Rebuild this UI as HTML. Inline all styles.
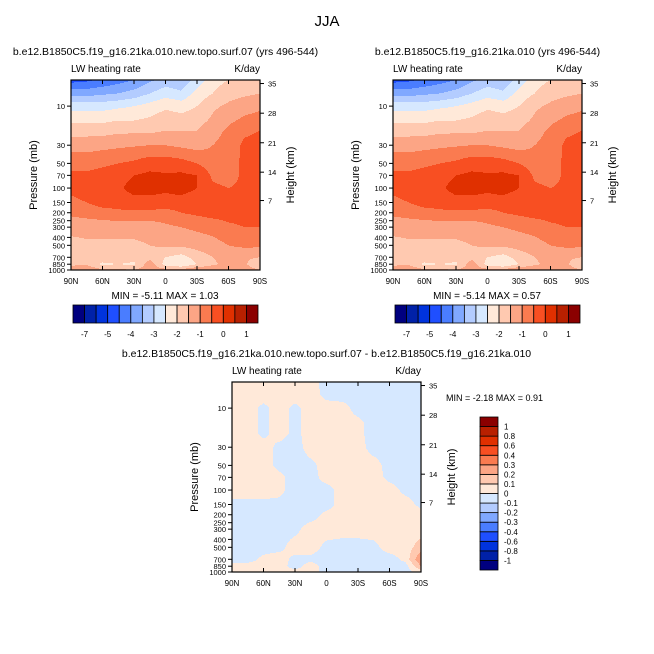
<!DOCTYPE html>
<html><head><meta charset="utf-8">
<style>
body{margin:0;background:#fff;}
#root{position:relative;width:654px;height:654px;background:#fff;overflow:hidden;font-family:"Liberation Sans",sans-serif;color:#000;}
</style></head>
<body>
<div id="root">
<svg id="svg" width="654" height="654" style="position:absolute;left:0;top:0"></svg>
</div>
<script>
const lats = ["90N","75N","60N","45N","30N","15N","0","15S","30S","45S","60S","75S","90S"];
const levels = [4.8,7,10,15,20,30,50,70,100,150,200,300,500,700,850,1000];
const latTicks = ["90N","60N","30N","0","30S","60S","90S"];
const presTicks = [10,30,50,70,100,150,200,250,300,400,500,700,850,1000];
const heightTicks = [35,28,21,14,7];
const heightTickP = [5.3,12.2,28,64,142];
const topLevels = [-7,-6,-5,-4.5,-4,-3.5,-3,-2.5,-2,-1.5,-1,-0.5,0,0.5,1];
const topLabels = ["-7","-5","-4","-3","-2","-1","0","1"];
const diffLevels = [-1,-0.8,-0.6,-0.4,-0.3,-0.2,-0.1,0,0.1,0.2,0.3,0.4,0.6,0.8,1];
const diffLabels = ["-1","-0.8","-0.6","-0.4","-0.3","-0.2","-0.1","0","0.1","0.2","0.3","0.4","0.6","0.8","1"];
const colors = ["#00007F","#0021A8","#0033DD","#1F4FFF","#4A7DFF","#80A8FF","#B3CCFF","#D6E8FF","#FFE9D9","#FFC9B0","#FCA585","#FA7B50","#F84F22","#E03000","#B82000","#8B0000"];
const fieldA = [
[-4.7,-4.6,-4.4,-4.2,-4.0,-3.6,-3.3,-3.4,-2.8,-2.2,-2.0,-1.9,-1.8],
[-3.7,-3.7,-3.6,-3.5,-3.3,-3.0,-2.7,-2.9,-2.3,-2.0,-1.7,-1.6,-1.5],
[-2.7,-2.7,-2.7,-2.6,-2.5,-2.3,-2.1,-2.2,-2.0,-1.6,-1.4,-1.2,-1.1],
[-2.1,-2.1,-2.1,-2.0,-2.0,-1.9,-1.7,-1.8,-1.7,-1.4,-1.1,-0.9,-0.8],
[-1.7,-1.7,-1.7,-1.6,-1.6,-1.6,-1.5,-1.5,-1.5,-1.2,-0.9,-0.6,-0.5],
[-1.2,-1.2,-1.15,-1.1,-1.05,-1.0,-1.0,-1.1,-1.2,-1.0,-0.8,-0.4,-0.3],
[-0.7,-0.7,-0.6,-0.5,-0.4,-0.2,-0.2,-0.3,-0.5,-0.8,-0.7,-0.4,-0.3],
[-0.4,-0.4,-0.3,-0.2,0.0,0.1,0.05,0.1,0.0,-0.6,-0.7,-0.4,-0.3],
[-0.4,-0.3,-0.2,-0.1,0.2,0.2,0.1,0.2,0.0,-0.4,-0.5,-0.4,-0.3],
[-0.6,-0.5,-0.3,-0.3,-0.2,-0.2,-0.2,-0.2,-0.3,-0.3,-0.3,-0.3,-0.3],
[-0.9,-0.8,-0.7,-0.6,-0.6,-0.6,-0.7,-0.5,-0.4,-0.3,-0.3,-0.3,-0.3],
[-1.3,-1.3,-1.3,-1.3,-1.3,-1.3,-1.1,-1.0,-0.9,-0.8,-0.6,-0.5,-0.5],
[-1.7,-1.6,-1.6,-1.6,-1.6,-1.5,-1.4,-1.4,-1.3,-1.2,-1.0,-0.9,-0.9],
[-1.9,-1.8,-1.7,-1.7,-1.8,-1.7,-2.0,-2.2,-1.8,-1.5,-1.3,-1.4,-1.5],
[-1.6,-1.6,-2.1,-2.0,-2.1,-1.2,-2.2,-2.5,-2.0,-1.6,-1.3,-1.4,-2.0],
[-1.2,-1.0,-1.4,-1.4,-1.5,-1.2,-1.3,-1.3,-1.0,-1.0,-1.0,-1.2,-1.5]];
const fieldB = [
[-4.7,-4.6,-4.4,-4.2,-4.0,-3.6,-3.3,-3.4,-2.8,-2.2,-2.0,-1.9,-1.8],
[-3.7,-3.7,-3.6,-3.5,-3.3,-3.0,-2.7,-2.9,-2.3,-2.0,-1.7,-1.6,-1.5],
[-2.7,-2.7,-2.7,-2.6,-2.5,-2.3,-2.1,-2.2,-2.0,-1.6,-1.4,-1.2,-1.1],
[-2.1,-2.1,-2.1,-2.0,-2.0,-1.9,-1.7,-1.8,-1.7,-1.4,-1.1,-0.9,-0.8],
[-1.7,-1.7,-1.7,-1.6,-1.6,-1.6,-1.5,-1.5,-1.5,-1.2,-0.9,-0.6,-0.5],
[-1.2,-1.2,-1.15,-1.1,-1.05,-1.0,-1.0,-1.1,-1.2,-1.0,-0.8,-0.4,-0.3],
[-0.7,-0.7,-0.6,-0.5,-0.4,-0.2,-0.2,-0.3,-0.5,-0.8,-0.7,-0.4,-0.3],
[-0.4,-0.4,-0.3,-0.2,0.0,0.1,0.05,0.1,0.0,-0.6,-0.7,-0.4,-0.3],
[-0.4,-0.3,-0.2,-0.1,0.2,0.2,0.1,0.2,0.0,-0.4,-0.5,-0.4,-0.3],
[-0.6,-0.5,-0.3,-0.3,-0.2,-0.2,-0.2,-0.2,-0.3,-0.3,-0.3,-0.3,-0.3],
[-0.9,-0.8,-0.7,-0.6,-0.6,-0.6,-0.7,-0.5,-0.4,-0.3,-0.3,-0.3,-0.3],
[-1.3,-1.3,-1.3,-1.3,-1.3,-1.3,-1.1,-1.0,-0.9,-0.8,-0.6,-0.5,-0.5],
[-1.7,-1.6,-1.6,-1.6,-1.6,-1.5,-1.4,-1.4,-1.3,-1.2,-1.0,-0.9,-0.9],
[-1.9,-1.8,-1.7,-1.7,-1.8,-1.7,-2.0,-2.2,-1.8,-1.5,-1.3,-1.4,-1.5],
[-1.6,-1.6,-2.1,-2.0,-2.1,-1.2,-2.2,-2.5,-2.0,-1.6,-1.3,-1.4,-2.0],
[-1.2,-1.0,-1.4,-1.4,-1.5,-1.2,-1.3,-1.3,-1.0,-1.0,-1.0,-1.2,-1.5]];
const fieldDiff = [
[.05,.05,.05,.05,.05,.05,-.05,-.05,-.05,-.05,-.05,-.05,-.05],
[.05,.05,.05,.05,.05,.05,-.03,-.05,-.05,-.05,-.05,-.05,-.05],
[.05,.05,-.03,.05,-.03,.05,.05,.05,-.05,-.05,-.05,-.05,-.05],
[.05,.05,-.03,.05,-.03,.05,.05,.05,.03,-.05,-.05,-.05,-.05],
[.05,.05,-.03,.05,-.03,.05,.05,.05,.03,-.05,-.05,-.05,-.05],
[.05,.05,.05,-.03,-.05,.05,.05,.05,.05,-.05,-.05,-.05,-.05],
[.05,.05,.05,-.03,-.05,-.03,.05,.05,.05,.05,-.05,-.05,-.05],
[.05,.05,.05,.03,-.05,-.05,.05,.05,.05,.05,-.03,-.05,-.05],
[.05,.05,.05,.03,-.05,-.05,-.05,.05,.05,.05,.05,-.03,-.05],
[-.03,-.03,-.03,-.03,-.05,-.05,-.05,.05,.05,.05,.05,.05,-.03],
[-.05,-.05,-.05,-.05,-.05,-.05,.03,.05,.05,.05,.05,.05,.05],
[-.05,-.05,-.05,-.05,-.03,.05,.05,.05,.05,.05,.05,.05,.05],
[-.05,-.05,-.05,-.03,.05,.05,-.03,-.05,-.05,-.03,.05,.05,.15],
[-.05,-.05,.03,.05,-.03,-.03,-.05,-.05,-.05,-.05,-.05,.03,.3],
[.05,.05,.05,.05,-.05,.05,-.05,-.05,-.05,-.05,-.05,-.05,.2],
[.05,.05,.05,.05,.05,.05,-.05,-.05,-.05,-.05,-.05,-.05,.05]];

const NS="http://www.w3.org/2000/svg";
const svg=document.getElementById('svg');
function mk(tag,attrs,parent){const e=document.createElementNS(NS,tag);for(const k in attrs)e.setAttribute(k,attrs[k]);(parent||svg).appendChild(e);return e;}
function txt(s,x,y,size,anchor,parent,extra){const t=mk('text',Object.assign({x:x,y:y,'font-size':size,'text-anchor':anchor||'start','font-family':'Liberation Sans, sans-serif'},extra||{}),parent);t.textContent=s;return t;}

function bandIndex(v,lv){let i=0;while(i<lv.length&&v>=lv[i])i++;return i;}

function panel(px,py,field,lv,nameP,title){
  const W=189,H=190;
  const g=mk('g',{});
  
  
  const logTop=Math.log10(levels[0]),logBot=Math.log10(1000);
  const yOf=p=>py+(Math.log10(p)-logTop)/(logBot-logTop)*H;
  const cells=mk('g',{'shape-rendering':'crispEdges'},g);
  
  
  const lp=levels.map(p=>Math.log10(p));
  const step=1;
  for(let yy=0;yy<H;yy+=step){
    const L=logTop+(yy+step/2)/H*(logBot-logTop);
    let k=0;while(k<lp.length-2&&L>lp[k+1])k++;
    let fy=(L-lp[k])/(lp[k+1]-lp[k]);fy=Math.max(0,Math.min(1,fy));
    let runStart=0,runC=-1;
    for(let xx=0;xx<=W;xx+=step){
      let c=-1;
      if(xx<W){
        const fxAll=(xx+step/2)/W*(lats.length-1);
        const j=Math.min(lats.length-2,Math.floor(fxAll));const fx=fxAll-j;
        const v=(field[k][j]*(1-fx)+field[k][j+1]*fx)*(1-fy)+(field[k+1][j]*(1-fx)+field[k+1][j+1]*fx)*fy;
        c=bandIndex(v,lv);
      }
      if(c!==runC){
        if(runC>=0) mk('rect',{x:px+runStart,y:py+yy,width:xx-runStart,height:step,fill:colors[runC]},cells);
        runC=c;runStart=xx;
      }
    }
  }
  mk('rect',{x:px,y:py,width:W,height:H,fill:'none',stroke:'#000','stroke-width':1.2},g);
  latTicks.forEach((s,i)=>{const x=px+i/(latTicks.length-1)*W;
    mk('line',{x1:x,y1:py+H,x2:x,y2:py+H-4,stroke:'#000'},g);
    mk('line',{x1:x,y1:py,x2:x,y2:py+4,stroke:'#000'},g);
    txt(s,x,py+H+14,8,'middle',g);});
  presTicks.forEach(p=>{const y=yOf(p);
    mk('line',{x1:px,y1:y,x2:px-4,y2:y,stroke:'#000'},g);
    txt(String(p),px-6,y+3,7.5,'end',g);});
  heightTickP.forEach((p,i)=>{const y=yOf(p);
    mk('line',{x1:px+W,y1:y,x2:px+W+4,y2:y,stroke:'#000'},g);
    txt(String(heightTicks[i]),px+W+8,y+3,7.5,'start',g);});
  txt('LW heating rate',px,py-8,10,'start',g);
  txt('K/day',px+W,py-8,10,'end',g);
  txt('Pressure (mb)',0,0,11,'middle',g,{transform:`translate(${px-34},${py+H/2}) rotate(-90)`});
  txt('Height (km)',0,0,11,'middle',g,{transform:`translate(${px+W+34},${py+H/2}) rotate(-90)`});
  const t=txt(title,px+W/2,py-25,10.5,'middle',g);
  
  return g;
}

const tt=txt('JJA',327,26,15,'middle');


function hbar(x0,y0,w,h,labels){
  const g=mk('g',{});
  
  
  const n=colors.length,bw=w/n;
  colors.forEach((c,i)=>{const r=mk('rect',{x:x0+i*bw,y:y0,width:bw,height:h,fill:c,stroke:'#000','stroke-width':0.8},g);
    });
  labels.forEach((s,i)=>{txt(s,x0+(1+2*i)*bw,y0+h+14,8,'middle',g);});
}
function vbar(x0,y0,w,h,labels){
  const g=mk('g',{});
  
  
  const n=colors.length,bh=h/n;
  colors.forEach((c,i)=>{const r=mk('rect',{x:x0,y:y0+h-(i+1)*bh,width:w,height:bh,fill:c,stroke:'#000','stroke-width':0.8},g);
    });
  labels.forEach((s,i)=>{txt(s,x0+w+6,y0+h-(i+1)*bh+3,8,'start',g);});
}

panel(71,80,fieldA,topLevels,'panel-new-topo','b.e12.B1850C5.f19_g16.21ka.010.new.topo.surf.07 (yrs 496-544)');
txt('MIN =  -5.11   MAX =   1.03',165,299,10,'middle');
hbar(73,305,185,18,topLabels);

panel(393,80,fieldB,topLevels,'panel-control','b.e12.B1850C5.f19_g16.21ka.010 (yrs 496-544)');
txt('MIN =  -5.14   MAX =   0.57',487,299,10,'middle');
hbar(395,305,185,18,topLabels);

panel(232,382,fieldDiff,diffLevels,'panel-difference','b.e12.B1850C5.f19_g16.21ka.010.new.topo.surf.07 - b.e12.B1850C5.f19_g16.21ka.010');
txt('MIN =  -2.18   MAX =   0.91',446,401,9,'start');
vbar(480,417,18,153,diffLabels);
</script>
</body></html>
